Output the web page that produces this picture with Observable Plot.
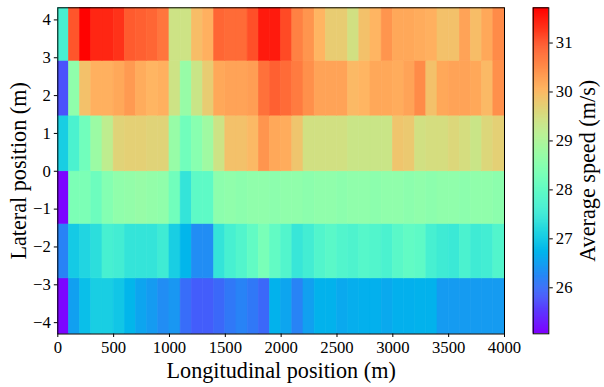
<!DOCTYPE html>
<html><head><meta charset="utf-8">
<script src="https://cdn.jsdelivr.net/npm/d3@7"></script>
<script src="https://cdn.jsdelivr.net/npm/@observablehq/plot@0.6"></script>
<style>
body{margin:0;background:#fff;}
#chart{position:relative;width:604px;height:387px;}
#chart svg{position:absolute;left:0;top:0;}
#chart svg text{font-family:"Liberation Serif","Times New Roman",serif !important;font-variant-numeric:normal !important;}
</style></head><body><div id="chart"></div>
<script>
// Longitudinal bins (m), 100 m wide
const binStart = [0,100,200,300,400,500,600,700,800,900,1000,1100,1200,1300,1400,1500,1600,1700,1800,1900,
  2000,2100,2200,2300,2400,2500,2600,2700,2800,2900,3000,3100,3200,3300,3400,3500,3600,3700,3800,3900];
const binWidth = 100;
// Lateral lane edges (m), bottom to top
const laneEdges = [-4.3, -2.83, -1.39, 0, 1.47, 2.92, 4.32];

// Average speed (m/s) per bin, top lane first
const laneTop = [27.65,31.0,31.7,31.4,31.4,31.3,30.95,30.9,30.85,30.7,
  29.4,29.4,29.95,30.1,30.85,30.8,30.8,31.05,31.5,31.5,
  31.1,30.6,30.4,30.05,29.75,29.75,29.45,29.9,30.05,30.4,
  30.2,30.2,30.15,30.1,29.9,29.9,30.25,29.95,30.2,30.5];
const lane2 = [25.75,28.6,29.9,30.1,30.1,30.2,30.35,30.15,30.05,30.1,
  29.4,28.7,29.35,29.75,30.2,30.25,30.25,30.3,30.75,30.9,
  30.8,30.65,30.45,30.25,30.25,30.25,30.0,30.05,30.2,30.2,
  30.15,30.25,30.5,29.9,30.2,30.25,30.25,30.2,30.0,30.45];
const lane3 = [27.05,27.7,28.2,28.75,29.2,29.65,29.7,29.7,29.65,29.65,
  28.7,28.2,28.5,28.8,29.4,29.9,29.9,30.0,30.4,30.2,
  30.15,29.85,29.45,29.45,29.45,29.45,29.35,29.35,29.35,29.35,
  29.85,29.8,29.45,29.5,29.5,29.6,29.5,29.35,29.6,29.7];
const lane4 = [25.1,28.35,28.35,28.15,28.45,28.6,28.65,28.7,28.65,28.6,
  28.2,27.4,27.95,27.95,28.55,28.6,28.55,28.6,28.6,28.55,
  28.6,28.6,28.55,28.6,28.6,28.55,28.6,28.6,28.55,28.6,
  28.6,28.55,28.6,28.55,28.6,28.6,28.55,28.6,28.6,28.55];
const lane5 = [26.2,27.0,27.15,27.3,27.65,27.6,27.4,27.4,27.4,27.55,
  27.05,26.75,26.3,26.3,27.4,27.65,27.8,28.0,28.3,28.0,
  27.8,27.45,27.6,27.8,27.9,27.8,27.75,27.85,27.8,27.7,
  27.9,28.0,27.95,27.65,27.55,27.5,27.7,27.55,27.6,27.8];
const laneBottom = [25.1,26.5,26.85,27.05,27.05,26.95,26.75,26.55,26.45,26.3,
  26.4,26.0,25.85,25.85,25.95,26.1,26.2,26.1,25.95,26.7,
  26.55,26.2,26.5,26.7,26.7,26.6,26.65,26.68,26.68,26.6,
  26.68,26.68,26.7,26.7,26.45,26.45,26.45,26.45,26.45,26.45];

const xTicks = [0,500,1000,1500,2000,2500,3000,3500,4000];
const yTicks = [-4,-3,-2,-1,0,1,2,3,4];
const cbTicks = [26,27,28,29,30,31];
const speedDomain = [25.06, 31.72];
const xLabel = "Longitudinal position (m)";
const yLabel = "Lateral position (m)";
const cbLabel = "Average speed (m/s)";

// matplotlib "rainbow" colormap
function rainbow(t) {
  const r = Math.min(1, Math.abs(2 * t - 0.5));
  const g = Math.max(0, Math.sin(Math.PI * t));
  const b = Math.max(0, Math.cos(Math.PI * t / 2));
  return `rgb(${Math.round(r * 255)},${Math.round(g * 255)},${Math.round(b * 255)})`;
}
const colorOpts = {type: "linear", domain: speedDomain, interpolate: rainbow};

const lanes = [laneBottom, lane5, lane4, lane3, lane2, laneTop];
const cells = [];
lanes.forEach((vals, li) => vals.forEach((v, ci) => cells.push({
  x1: binStart[ci], x2: binStart[ci] + binWidth, y1: laneEdges[li], y2: laneEdges[li + 1], v
})));

const font = '"Liberation Serif", "Times New Roman", serif';
const fmt = d3.format("d");
const tickFont = 16.7;
const labelFont = 22.2;
const tickLen = 3.5, tickPad = 3.5;
const noLabel = () => "";

const main = Plot.plot({
  width: 604, height: 387,
  marginLeft: 57.3, marginRight: 100, marginTop: 7.3, marginBottom: 53.5,
  style: {fontFamily: font, fontSize: tickFont + "px", background: "white", overflow: "visible", color: "black"},
  x: {domain: [0, 4000]},
  y: {domain: [-4.3, 4.32]},
  color: colorOpts,
  marks: [
    Plot.rect(cells, {x1: "x1", x2: "x2", y1: "y1", y2: "y2", fill: "v", stroke: "v", strokeWidth: 0.6}),
    Plot.frame({stroke: "black", strokeWidth: 1}),
    Plot.axisX({ticks: xTicks, tickFormat: noLabel, tickSize: tickLen, label: null}),
    Plot.axisY({ticks: yTicks, tickFormat: noLabel, tickSize: tickLen, label: null}),
    Plot.text(xTicks, {x: d => d, frameAnchor: "bottom", dy: tickLen + tickPad, text: fmt, textAnchor: "middle", lineAnchor: "top", fontSize: tickFont, fontFamily: font}),
    Plot.text(yTicks, {y: d => d, frameAnchor: "left", dx: -(tickLen + tickPad), text: fmt, textAnchor: "end", lineAnchor: "middle", fontSize: tickFont, fontFamily: font}),
    Plot.text([xLabel], {frameAnchor: "bottom", dy: 37, textAnchor: "middle", lineAnchor: "middle", fontSize: labelFont, fontFamily: font}),
    Plot.text([yLabel], {frameAnchor: "left", dx: -39, rotate: -90, textAnchor: "middle", lineAnchor: "middle", fontSize: labelFont, fontFamily: font})
  ]
});

const N = 330;
const step = (speedDomain[1] - speedDomain[0]) / N;
const stripes = d3.range(N).map(i => speedDomain[0] + step * i);
const bar = Plot.plot({
  width: 604, height: 387,
  marginLeft: 532.7, marginRight: 55.7, marginTop: 7.3, marginBottom: 53.7,
  style: {fontFamily: font, fontSize: tickFont + "px", background: "transparent", overflow: "visible", color: "black"},
  x: {domain: [0, 1], axis: null},
  y: {domain: speedDomain},
  color: colorOpts,
  marks: [
    Plot.rect(stripes, {x1: () => 0, x2: () => 1, y1: d => d, y2: d => Math.min(d + step * 1.6, speedDomain[1]), fill: d => d + step / 2}),
    Plot.frame({stroke: "black", strokeWidth: 1}),
    Plot.axisY({anchor: "right", ticks: cbTicks, tickFormat: noLabel, tickSize: tickLen, label: null}),
    Plot.text(cbTicks, {y: d => d, frameAnchor: "right", dx: tickLen + tickPad, text: fmt, textAnchor: "start", lineAnchor: "middle", fontSize: tickFont, fontFamily: font}),
    Plot.text([cbLabel], {frameAnchor: "right", dx: 39, rotate: -90, textAnchor: "middle", lineAnchor: "middle", fontSize: labelFont, fontFamily: font})
  ]
});

const chart = document.getElementById("chart");
chart.appendChild(main);
chart.appendChild(bar);
</script>
</body></html>
